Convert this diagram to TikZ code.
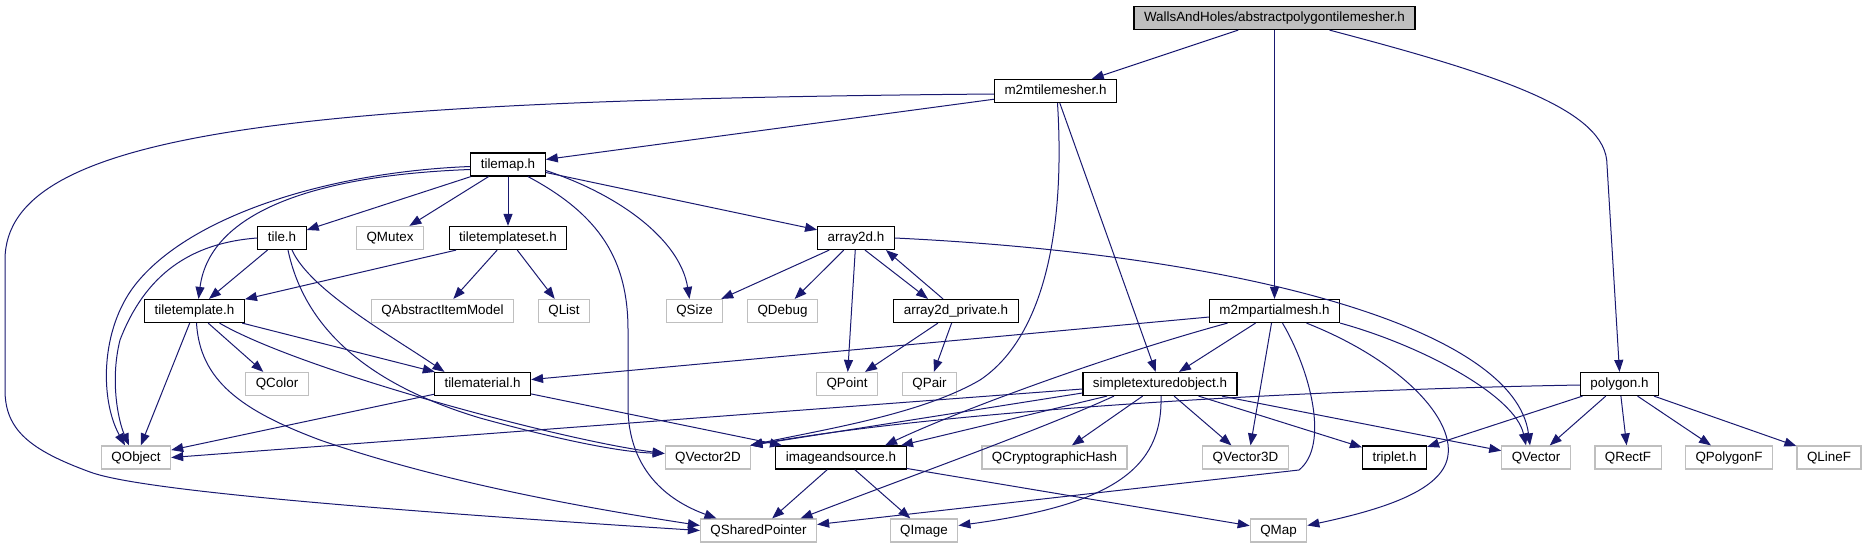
\documentclass[tikz,border=0pt]{standalone}
\usepackage{fontspec}
\setmainfont{Liberation Sans}
\usetikzlibrary{arrows.meta}
\newcommand{\graphfont}{\fontsize{13.4}{16}\selectfont}
\newcommand{\inc}[4][]{\node (#2) [#1] at (#3) {#4};}
\definecolor{edgeblue}{RGB}{25,25,112}
\definecolor{extgray}{RGB}{191,191,191}
\definecolor{maingray}{RGB}{191,191,191}
\tikzstyle{proj} = [draw=black, fill=white, line width=1.2pt, font=\graphfont, inner xsep=10pt, inner ysep=0pt, minimum height=23pt, text height=10pt, text depth=3pt]
\tikzstyle{main} = [proj, fill=maingray]
\tikzstyle{qt} = [proj, draw=extgray]
\tikzstyle{dep} = [draw=edgeblue, line width=1pt, -{Triangle[length=12pt,width=9pt]}]

\begin{document}
\begin{tikzpicture}[x=1pt, y=-1pt]
	\useasboundingbox (0,0) rectangle (1867,549);

	\inc[main]{root}{1274.5,18}{WallsAndHoles/abstractpolygontilemesher.h}
	\inc[proj]{m2mtm}{1055.5,91}{m2mtilemesher.h}
	\inc[proj]{tilemap}{508,164.5}{tilemap.h}
	\inc[proj]{tile}{282,238}{tile.h}
	\inc[qt]{qmutex}{390,238}{QMutex}
	\inc[proj]{tts}{508,238}{tiletemplateset.h}
	\inc[proj]{array2d}{856,238}{array2d.h}
	\inc[proj]{tt}{194.5,311}{tiletemplate.h}
	\inc[qt]{qaim}{442.5,311}{QAbstractItemModel}
	\inc[qt]{qlist}{564,311}{QList}
	\inc[qt]{qsize}{694.5,311}{QSize}
	\inc[qt]{qdebug}{782.5,311}{QDebug}
	\inc[proj]{a2dp}{956,311}{array2d\_private.h}
	\inc[proj]{m2mpm}{1274.5,311}{m2mpartialmesh.h}
	\inc[qt]{qcolor}{277,384}{QColor}
	\inc[proj]{tmat}{482.5,384}{tilematerial.h}
	\inc[qt]{qpoint}{847,384}{QPoint}
	\inc[qt]{qpair}{929.5,384}{QPair}
	\inc[proj]{sto}{1160,384}{simpletexturedobject.h}
	\inc[proj]{polygon}{1619.5,384}{polygon.h}
	\inc[qt]{qobject}{136,457.5}{QObject}
	\inc[qt]{qvec2d}{708,457.5}{QVector2D}
	\inc[proj]{ias}{841,457.5}{imageandsource.h}
	\inc[qt]{qcrypt}{1054.5,457.5}{QCryptographicHash}
	\inc[qt]{qvec3d}{1245.5,457.5}{QVector3D}
	\inc[proj]{triplet}{1394.5,457.5}{triplet.h}
	\inc[qt]{qvector}{1536,457.5}{QVector}
	\inc[qt]{qrectf}{1628,457.5}{QRectF}
	\inc[qt]{qpolyf}{1729,457.5}{QPolygonF}
	\inc[qt]{qlinef}{1829,457.5}{QLineF}
	\inc[qt]{qsp}{758.5,530.5}{QSharedPointer}
	\inc[qt]{qimage}{924,530.5}{QImage}
	\inc[qt]{qmap}{1278.5,530.5}{QMap}

	\draw[dep] (root) -- (m2mtm);
	\draw[dep] (root) -- (m2mpm);
	\draw[dep] ([xshift=55pt]root.south) .. controls (1500,75) and (1607,110) .. (1607,165) -- (polygon.north);

	\draw[dep] (m2mtm) -- (tilemap);
	\draw[dep] ([yshift=-3pt]m2mtm.west) .. controls (300,100) and (5,130) .. (5,260) -- (5,390) .. controls (5,430) and (30,450) .. (90,472) .. controls (130,487) and (300,505) .. (qsp.west);
	\draw[dep] ([xshift=2pt]m2mtm.south) .. controls (1066,240) and (1040,340) .. (980,380) .. controls (920,415) and (820,430) .. ([xshift=-1pt]qvec2d.north east);
	\draw[dep] (m2mtm) -- (sto);

	\draw[dep] (tilemap) -- (tile);
	\draw[dep] (tilemap) -- (qmutex);
	\draw[dep] (tilemap) -- (tts);
	\draw[dep] (tilemap) -- (array2d);
	\draw[dep] ([yshift=-2pt]tilemap.west) .. controls (330,172) and (190,215) .. (135,285) .. controls (100,330) and (100,400) .. ([xshift=-11pt]qobject.north);
	\draw[dep] ([yshift=-5pt]tilemap.west) .. controls (320,175) and (210,210) .. ([xshift=4pt]tt.north);
	\draw[dep] ([yshift=-6pt]tilemap.east) .. controls (620,195) and (680,240) .. ([xshift=-5pt]qsize.north);
	\draw[dep] ([xshift=20pt]tilemap.south) .. controls (600,215) and (628,260) .. (628,330) -- (628,410) .. controls (630,480) and (680,505) .. ([xshift=-42pt]qsp.north);

	\draw[dep] (tile.west) .. controls (190,243) and (145,275) .. (120,340) .. controls (110,380) and (118,420) .. ([xshift=-7pt]qobject.north);
	\draw[dep] (tile) -- (tt);
	\draw[dep] ([xshift=10pt]tile.south) .. controls (310,290) and (390,335) .. ([xshift=-38pt]tmat.north);
	\draw[dep] ([xshift=6pt]tile.south) .. controls (305,330) and (370,385) .. (480,418) .. controls (560,440) and (620,452) .. ([yshift=4pt]qvec2d.west);

	\draw[dep] (tts) -- (tt);
	\draw[dep] (tts) -- (qaim);
	\draw[dep] (tts) -- (qlist);

	\draw[dep] (array2d) -- (qsize);
	\draw[dep] (array2d) -- (qdebug);
	\draw[dep] (array2d) -- (qpoint);
	\draw[dep] ([xshift=9pt]array2d.south) -- ([xshift=-28pt]a2dp.north);
	\draw[dep] (array2d.east) .. controls (1250,255) and (1515,330) .. ([xshift=-6pt]qvector.north);

	\draw[dep] ([xshift=-13pt]a2dp.north) -- ([xshift=30pt]array2d.south);
	\draw[dep] (a2dp) -- (qpoint);
	\draw[dep] (a2dp) -- (qpair);

	\draw[dep] (tt) -- (qobject);
	\draw[dep] (tt) -- (qcolor);
	\draw[dep] (tt) -- (tmat);
	\draw[dep] ([xshift=2pt]tt.south) .. controls (200,380) and (240,410) .. (320,440) .. controls (450,485) and (600,510) .. ([yshift=5pt]qsp.west);
	\draw[dep] ([xshift=25pt]tt.south) .. controls (300,370) and (560,440) .. ([yshift=4pt]qvec2d.west);

	\draw[dep] (m2mpm) -- (tmat);
	\draw[dep] ([xshift=-47pt]m2mpm.south) .. controls (1110,355) and (960,410) .. ([xshift=44pt]ias.north);
	\draw[dep] (m2mpm) -- (sto);
	\draw[dep] ([xshift=-3pt]m2mpm.south) -- ([xshift=5pt]qvec3d.north);
	\draw[dep] ([xshift=8pt]m2mpm.south) .. controls (1310,370) and (1330,445) .. (1299,470) -- ([yshift=6pt]qsp.east);
	\draw[dep] ([xshift=32pt]m2mpm.south) .. controls (1400,360) and (1458,420) .. (1447,460) .. controls (1438,492) and (1380,510) .. ([yshift=5pt]qmap.east);
	\draw[dep] (m2mpm.south east) .. controls (1420,345) and (1515,395) .. ([xshift=-10pt]qvector.north);

	\draw[dep] (tmat) -- (qobject);
	\draw[dep] (tmat) -- (ias);

	\draw[dep] ([yshift=-5pt]sto.west) -- (qobject.east);
	\draw[dep] ([yshift=-9pt]sto.west) -- ([xshift=-1pt]qvec2d.north east);
	\draw[dep] ([xshift=-53pt]sto.south) -- ([xshift=60pt]ias.north);
	\draw[dep] ([xshift=-46pt]sto.south) .. controls (1040,430) and (900,480) .. ([xshift=42pt]qsp.north);
	\draw[dep] (sto) -- (qcrypt);
	\draw[dep] ([xshift=1pt]sto.south) .. controls (1163,470) and (1110,505) .. ([yshift=5pt]qimage.east);
	\draw[dep] (sto) -- (qvec3d);
	\draw[dep] (sto) -- (triplet);
	\draw[dep] (sto) -- (qvector);

	\draw[dep] ([yshift=-1pt]polygon.west) .. controls (1300,390) and (950,410) .. ([xshift=-1pt]qvec2d.north east);
	\draw[dep] (polygon) -- (triplet);
	\draw[dep] (polygon) -- (qvector);
	\draw[dep] (polygon) -- (qrectf);
	\draw[dep] (polygon) -- (qpolyf);
	\draw[dep] (polygon) -- (qlinef);

	\draw[dep] (ias) -- (qsp);
	\draw[dep] (ias) -- (qimage);
	\draw[dep] (ias) -- (qmap);
\end{tikzpicture}
\end{document}
